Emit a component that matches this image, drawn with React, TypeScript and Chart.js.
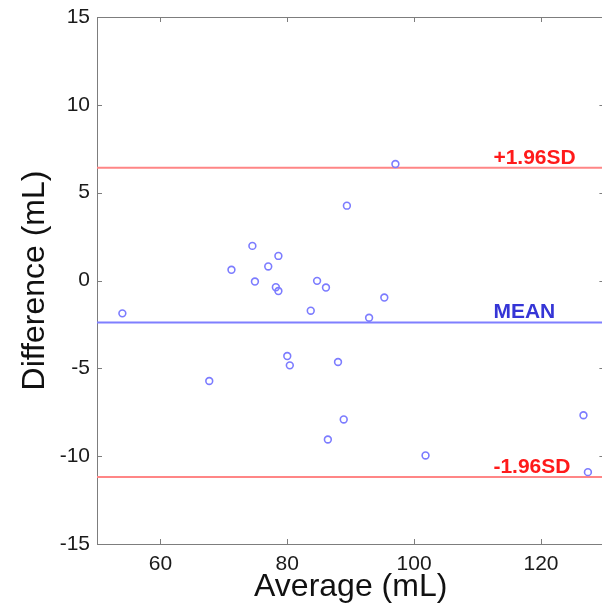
import React, { useEffect, useRef } from "react";
import { Chart, registerables } from "chart.js";

Chart.register(...registerables);

// Bland-Altman data
const averages = [54.0, 67.7, 71.2, 74.5, 74.9, 77.0, 78.6, 78.2, 78.6, 80.0, 80.4, 83.7, 84.7, 86.1, 86.4, 88.0, 88.9, 89.4, 92.9, 95.3, 97.05, 101.8, 126.7, 127.4];
const differences = [-1.87, -5.72, 0.61, 1.97, -0.06, 0.8, 1.4, -0.38, -0.6, -4.3, -4.83, -1.72, -0.02, -0.4, -9.05, -4.64, -7.91, 4.26, -2.12, -0.97, 6.63, -9.96, -7.67, -10.91];
const meanDiff = -2.39;
const upperLimit = 6.42;
const lowerLimit = -11.19;
const xRange = [50, 130];
const yRange = [-15, 15];
const xTicks = [60, 80, 100, 120];
const yTicks = [-15, -10, -5, 0, 5, 10, 15];
const limitLabels = ["+1.96SD", "MEAN", "-1.96SD"];
const labelXValue = 112.5;

const FONT = "'Liberation Sans', Arial, Helvetica, sans-serif";

const frameAndTicks = {
  id: "frameAndTicks",
  beforeDatasetsDraw(chart: any) {
    const { ctx, chartArea } = chart;
    const { left, right, top, bottom } = chartArea;
    const xs = chart.scales.x;
    const ys = chart.scales.y;
    ctx.save();
    ctx.strokeStyle = "#7d7d7d";
    ctx.lineWidth = 1;
    ctx.strokeRect(Math.round(left) + 0.5, Math.round(top) + 0.5, Math.round(right - left), Math.round(bottom - top));
    const tl = 5;
    ctx.beginPath();
    xs.ticks.forEach((t: any) => {
      const px = Math.round(xs.getPixelForValue(t.value)) + 0.5;
      ctx.moveTo(px, bottom);
      ctx.lineTo(px, bottom - tl);
      ctx.moveTo(px, top);
      ctx.lineTo(px, top + tl);
    });
    ys.ticks.forEach((t: any) => {
      const py = Math.round(ys.getPixelForValue(t.value)) + 0.5;
      ctx.moveTo(left, py);
      ctx.lineTo(left + tl, py);
      ctx.moveTo(right, py);
      ctx.lineTo(right - tl, py);
    });
    ctx.stroke();
    ctx.restore();
  },
};

const limitText = {
  id: "limitText",
  afterDatasetsDraw(chart: any) {
    const { ctx } = chart;
    const xs = chart.scales.x;
    const ys = chart.scales.y;
    const items = [
      { text: limitLabels[0], v: upperLimit, color: "#ff1a1a" },
      { text: limitLabels[1], v: meanDiff, color: "#3535d6" },
      { text: limitLabels[2], v: lowerLimit, color: "#ff1a1a" },
    ];
    ctx.save();
    ctx.font = `bold 21px ${FONT}`;
    ctx.textAlign = "left";
    ctx.textBaseline = "alphabetic";
    items.forEach((it) => {
      ctx.fillStyle = it.color;
      ctx.fillText(it.text, xs.getPixelForValue(labelXValue), ys.getPixelForValue(it.v) - 4);
    });
    ctx.restore();
  },
};

export default function App() {
  const ref = useRef<HTMLCanvasElement | null>(null);
  useEffect(() => {
    if (!ref.current) return;
    const points = averages.map((a, i) => ({ x: a, y: differences[i] }));
    const hline = (v: number) => [
      { x: xRange[0], y: v },
      { x: xRange[1], y: v },
    ];
    const chart = new Chart(ref.current, {
      type: "scatter",
      data: {
        datasets: [
          {
            label: "Upper",
            data: hline(upperLimit),
            showLine: true,
            borderColor: "#ff8686",
            borderWidth: 2,
            pointRadius: 0,
            order: 2,
          } as any,
          {
            label: "Mean",
            data: hline(meanDiff),
            showLine: true,
            borderColor: "#7f7fff",
            borderWidth: 2,
            pointRadius: 0,
            order: 2,
          } as any,
          {
            label: "Lower",
            data: hline(lowerLimit),
            showLine: true,
            borderColor: "#ff8686",
            borderWidth: 2,
            pointRadius: 0,
            order: 2,
          } as any,
          {
            label: "Difference",
            data: points,
            showLine: false,
            pointRadius: 3.4,
            pointBorderWidth: 1.6,
            borderColor: "#7c7cff",
            backgroundColor: "rgba(0,0,0,0)",
            order: 1,
          } as any,
        ],
      },
      options: {
        responsive: false,
        animation: false,
        devicePixelRatio: 1,
        layout: { padding: { top: 9, right: 4, left: 0, bottom: 0 } },
        plugins: {
          legend: { display: false },
          tooltip: { enabled: false },
        },
        scales: {
          x: {
            type: "linear",
            min: xRange[0],
            max: xRange[1],
            grid: { display: false, drawTicks: false },
            border: { display: false },
            afterBuildTicks(scale: any) {
              scale.ticks = xTicks.map((v) => ({ value: v }));
            },
            ticks: {
              padding: 8,
              color: "#1a1a1a",
              font: { family: FONT, size: 21 },
            },
            title: {
              display: true,
              text: "Average (mL)",
              color: "#111",
              font: { family: FONT, size: 32 },
              padding: { top: 0, bottom: 2 },
            },
            afterFit(scale: any) {
              scale.height = 64;
              scale.paddingLeft = 0;
              scale.paddingRight = 0;
            },
          },
          y: {
            type: "linear",
            min: yRange[0],
            max: yRange[1],
            grid: { display: false, drawTicks: false },
            border: { display: false },
            afterBuildTicks(scale: any) {
              scale.ticks = yTicks.map((v) => ({ value: v }));
            },
            ticks: {
              padding: 7,
              color: "#1a1a1a",
              font: { family: FONT, size: 21 },
            },
            title: {
              display: true,
              text: "Difference (mL)",
              color: "#111",
              font: { family: FONT, size: 32 },
              padding: { top: 8, bottom: 0 },
            },
            afterFit(scale: any) {
              scale.width = 89;
              scale.paddingTop = 0;
              scale.paddingBottom = 0;
            },
          },
        },
      } as any,
      plugins: [frameAndTicks, limitText],
    });
    return () => chart.destroy();
  }, []);
  return (
    <canvas
      ref={ref}
      width={602}
      height={600}
      style={{ display: "block", width: "602px", height: "600px" }}
    />
  );
}
